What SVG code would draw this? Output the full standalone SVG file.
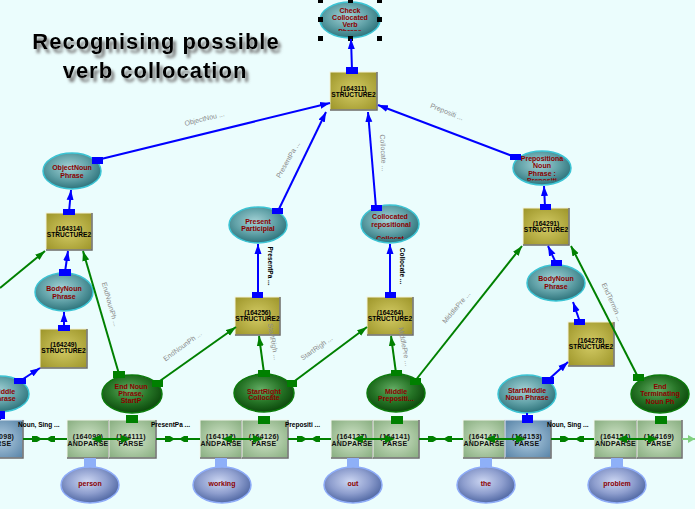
<svg xmlns="http://www.w3.org/2000/svg" width="695" height="509" viewBox="0 0 695 509">
<defs>
<style>
.ti{font-family:"Liberation Sans",Arial,sans-serif;font-size:22px;font-weight:bold;letter-spacing:1px;text-anchor:middle;fill:#000}
.et{font-family:"Liberation Sans",Arial,sans-serif;font-size:7px;font-weight:bold;fill:#8b0000;text-anchor:middle}
.bt{font-family:"Liberation Sans",Arial,sans-serif;font-size:6.6px;font-weight:bold;fill:#000;text-anchor:middle}
.pt{font-family:"Liberation Sans",Arial,sans-serif;font-size:7px;font-weight:bold;fill:#111;text-anchor:middle;letter-spacing:0.3px}
.gl{font-family:"Liberation Sans",Arial,sans-serif;font-size:7px;fill:#8a8a8a;text-anchor:middle}
.kl{font-family:"Liberation Sans",Arial,sans-serif;font-size:6.5px;font-weight:bold;fill:#000}
.kv{font-family:"Liberation Sans",Arial,sans-serif;font-size:6.5px;font-weight:bold;fill:#000;text-anchor:middle}
.teal{fill:url(#gTeal);stroke:#3cc4d4;stroke-width:1.5}
.grn{fill:url(#gGreen);stroke:#0c7a0c;stroke-width:1.5}
.wrd{fill:url(#gWord);stroke:#8eacf8;stroke-width:1.5}
.ob{fill:url(#gOlive);stroke:#f4f4dc;stroke-width:1}
.gb{fill:url(#gGBox);stroke:#f4f8f0;stroke-width:1}
.ub{fill:url(#gBBox);stroke:#e8f0f8;stroke-width:1}
.sh{fill:none;stroke:#6c6c6c;stroke-width:1.5}
.bl{stroke:#0000ff;stroke-width:2;fill:none}
.gn{stroke:#008000;stroke-width:2;fill:none}
.bp{fill:#0000ff}
.gp{fill:#008000}
.lp{fill:#8eb0f8}
.hd{fill:#000}
</style>
<radialGradient id="gTeal" cx="0.45" cy="0.4" r="0.62">
<stop offset="0" stop-color="#a4d2d6"/><stop offset="0.55" stop-color="#62a2a8"/><stop offset="1" stop-color="#2a7078"/>
</radialGradient>
<radialGradient id="gGreen" cx="0.45" cy="0.4" r="0.62">
<stop offset="0" stop-color="#64ac64"/><stop offset="0.55" stop-color="#267426"/><stop offset="1" stop-color="#0a460a"/>
</radialGradient>
<radialGradient id="gWord" cx="0.45" cy="0.4" r="0.62">
<stop offset="0" stop-color="#ccd6f2"/><stop offset="0.55" stop-color="#8e9ece"/><stop offset="1" stop-color="#4c64a0"/>
</radialGradient>
<radialGradient id="gOlive" cx="0.5" cy="0.5" r="0.7">
<stop offset="0" stop-color="#d4cc66"/><stop offset="1" stop-color="#9c9428"/>
</radialGradient>
<radialGradient id="gGBox" cx="0.5" cy="0.5" r="0.7">
<stop offset="0" stop-color="#d2e6ca"/><stop offset="1" stop-color="#86ac7e"/>
</radialGradient>
<radialGradient id="gBBox" cx="0.5" cy="0.5" r="0.7">
<stop offset="0" stop-color="#b2cee2"/><stop offset="1" stop-color="#5682a6"/>
</radialGradient>
<filter id="shadow" x="-10%" y="-40%" width="125%" height="190%">
<feGaussianBlur in="SourceAlpha" stdDeviation="1.6" result="b"/>
<feOffset in="b" dx="3" dy="4" result="o"/>
<feFlood flood-color="#777" result="c"/>
<feComposite in="c" in2="o" operator="in" result="s"/>
<feMerge><feMergeNode in="s"/><feMergeNode in="SourceGraphic"/></feMerge>
</filter>
<marker id="ab" viewBox="0 0 10 8" refX="10" refY="4" markerWidth="10" markerHeight="8" markerUnits="userSpaceOnUse" orient="auto"><path d="M0,0.5 L10,4 L0,7.5 z" fill="#0000ff"/></marker>
<marker id="ag" viewBox="0 0 10 8" refX="10" refY="4" markerWidth="10" markerHeight="8" markerUnits="userSpaceOnUse" orient="auto"><path d="M0,0.5 L10,4 L0,7.5 z" fill="#008000"/></marker>
<clipPath id="cCheck"><rect x="318" y="0" width="64" height="31"/></clipPath>
<clipPath id="cColl"><rect x="369" y="205" width="44" height="34"/></clipPath>
<clipPath id="cPrep"><rect x="510" y="150" width="64" height="30.5"/></clipPath>
</defs>

<rect x="0" y="0" width="695" height="509" fill="#ebfdfd"/>

<g id="title" filter="url(#shadow)">
<text class="ti" x="156" y="49">Recognising possible</text>
<text class="ti" x="155" y="78">verb collocation</text>
</g>

<g id="n_check">
<ellipse class="teal" cx="350" cy="20" rx="30" ry="18"/>
<g clip-path="url(#cCheck)">
<text class="et" x="350" y="12.5">Check</text>
<text class="et" x="350" y="20">Collocated</text>
<text class="et" x="350" y="27">Verb</text>
<text class="et" x="350" y="34">Phrase</text>
</g>
<rect class="hd" x="318" y="-2" width="5" height="5"/><rect class="hd" x="348" y="-2" width="5" height="5"/><rect class="hd" x="377" y="-2" width="5" height="5"/>
<rect class="hd" x="318" y="17" width="5" height="5"/><rect class="hd" x="377" y="17" width="5" height="5"/>
<rect class="hd" x="318" y="36" width="5" height="5"/><rect class="hd" x="348" y="36" width="5" height="5"/><rect class="hd" x="377" y="36" width="5" height="5"/>
</g>
<g id="n_objnp"><ellipse class="teal" cx="72" cy="171" rx="29" ry="18"/><text class="et" x="72" y="170">ObjectNoun</text><text class="et" x="72" y="178">Phrase</text></g>
<g id="n_prespart"><ellipse class="teal" cx="258" cy="225" rx="29" ry="18"/><text class="et" x="258" y="223.5">Present</text><text class="et" x="258" y="231">Participial</text></g>
<g id="n_collprep"><ellipse class="teal" cx="390" cy="224" rx="29" ry="19"/>
<g clip-path="url(#cColl)"><text class="et" x="390" y="218.5">Collocated</text><text class="et" x="391" y="226.5">repositional</text><text class="et" x="390" y="241">Collocat</text></g></g>
<g id="n_prepnp"><ellipse class="teal" cx="542" cy="168" rx="29" ry="17"/>
<g clip-path="url(#cPrep)"><text class="et" x="542" y="160.5">Prepositiona</text><text class="et" x="542" y="167.5">Noun</text><text class="et" x="542" y="175.5">Phrase :</text><text class="et" x="542" y="183">Prepositi</text></g></g>
<g id="n_bodynp_l"><ellipse class="teal" cx="64" cy="292" rx="29" ry="19"/><text class="et" x="64" y="290.5">BodyNoun</text><text class="et" x="64" y="298.5">Phrase</text></g>
<g id="n_middle_l"><ellipse class="teal" cx="0" cy="394" rx="29" ry="18"/><text class="et" x="4" y="393.5">Middle</text><text class="et" x="4" y="400.5">Phrase</text></g>
<g id="n_bodynp_r"><ellipse class="teal" cx="556" cy="283" rx="29" ry="18"/><text class="et" x="556" y="280.5">BodyNoun</text><text class="et" x="556" y="288.5">Phrase</text></g>
<g id="n_startmid"><ellipse class="teal" cx="527" cy="394" rx="29" ry="19"/><text class="et" x="527" y="392.5">StartMiddle</text><text class="et" x="527" y="399.5">Noun Phrase</text></g>

<g id="n_endnoun"><ellipse class="grn" cx="132" cy="394" rx="30" ry="19"/><text class="et" x="131" y="388.5">End Noun</text><text class="et" x="131" y="395.5">Phrase,</text><text class="et" x="131" y="402.5">StartP</text></g>
<g id="n_startright"><ellipse class="grn" cx="264" cy="393" rx="30" ry="19"/><text class="et" x="264" y="393.5">StartRight</text><text class="et" x="264" y="400">Collocate</text></g>
<g id="n_midprep"><ellipse class="grn" cx="396" cy="393" rx="29" ry="19"/><text class="et" x="396" y="393.5">Middle</text><text class="et" x="396" y="400.5">Prepositi...</text></g>
<g id="n_endterm"><ellipse class="grn" cx="660" cy="394" rx="29" ry="19"/><text class="et" x="660" y="388.5">End</text><text class="et" x="660" y="395.5">Terminating</text><text class="et" x="660" y="403.5">Noun Ph</text></g>

<g id="w_person"><ellipse class="wrd" cx="90" cy="485" rx="29" ry="18"/><text class="et" x="90" y="486">person</text></g>
<g id="w_working"><ellipse class="wrd" cx="222" cy="485" rx="29" ry="18"/><text class="et" x="222" y="486">working</text></g>
<g id="w_out"><ellipse class="wrd" cx="353" cy="485" rx="29" ry="18"/><text class="et" x="353" y="486">out</text></g>
<g id="w_the"><ellipse class="wrd" cx="486" cy="485" rx="29" ry="18"/><text class="et" x="486" y="486">the</text></g>
<g id="w_problem"><ellipse class="wrd" cx="617" cy="485" rx="29" ry="18"/><text class="et" x="617" y="486">problem</text></g>

<g id="s164311"><rect class="ob" x="330" y="72" width="47" height="38"/><path class="sh" d="M377,72 V110 H330"/><text class="bt" x="353.5" y="90.5">(164311)</text><text class="bt" x="353.5" y="96.5">STRUCTURE2</text></g>
<g id="s164314"><rect class="ob" x="46" y="213" width="46" height="37"/><path class="sh" d="M92,213 V250 H46"/><text class="bt" x="69" y="230.5">(164314)</text><text class="bt" x="69" y="236.5">STRUCTURE2</text></g>
<g id="s164256"><rect class="ob" x="235" y="297" width="45" height="38"/><path class="sh" d="M280,297 V335 H235"/><text class="bt" x="257.5" y="314.5">(164256)</text><text class="bt" x="257.5" y="320.5">STRUCTURE2</text></g>
<g id="s164264"><rect class="ob" x="367" y="297" width="46" height="38"/><path class="sh" d="M413,297 V335 H367"/><text class="bt" x="390" y="314.5">(164264)</text><text class="bt" x="390" y="320.5">STRUCTURE2</text></g>
<g id="s164291"><rect class="ob" x="523" y="208" width="46" height="37"/><path class="sh" d="M569,208 V245 H523"/><text class="bt" x="546" y="225.5">(164291)</text><text class="bt" x="546" y="231.5">STRUCTURE2</text></g>
<g id="s164249"><rect class="ob" x="40" y="329" width="47" height="39"/><path class="sh" d="M87,329 V368 H40"/><text class="bt" x="63.5" y="347">(164249)</text><text class="bt" x="63.5" y="353">STRUCTURE2</text></g>
<g id="s164278"><rect class="ob" x="568" y="322" width="46" height="44"/><path class="sh" d="M614,322 V366 H568"/><text class="bt" x="591" y="342.5">(164278)</text><text class="bt" x="591" y="348.5">STRUCTURE2</text></g>

<g id="p164098"><rect class="ub" x="-21" y="420" width="44" height="38"/><path class="sh" d="M23,420 V458 H-21"/><text class="pt" x="-1" y="438.5">(164098)</text><text class="pt" x="-1" y="446">PARSE</text></g>
<g id="p164099"><rect class="gb" x="67" y="420" width="42" height="38"/><path class="sh" d="M109,420 V458 H67"/><text class="pt" x="88" y="438.5">(164099)</text><text class="pt" x="88" y="446">ANDPARSE</text></g>
<g id="p164111"><rect class="gb" x="109" y="420" width="47" height="38"/><path class="sh" d="M156,420 V458 H109"/><text class="pt" x="131" y="438.5">(164111)</text><text class="pt" x="131" y="446">PARSE</text></g>
<g id="p164112"><rect class="gb" x="200" y="420" width="42" height="38"/><path class="sh" d="M242,420 V458 H200"/><text class="pt" x="221" y="438.5">(164112)</text><text class="pt" x="221" y="446">ANDPARSE</text></g>
<g id="p164126"><rect class="gb" x="242" y="420" width="46" height="38"/><path class="sh" d="M288,420 V458 H242"/><text class="pt" x="264" y="438.5">(164126)</text><text class="pt" x="264" y="446">PARSE</text></g>
<g id="p164127"><rect class="gb" x="331" y="420" width="42" height="38"/><path class="sh" d="M373,420 V458 H331"/><text class="pt" x="352" y="438.5">(164127)</text><text class="pt" x="352" y="446">ANDPARSE</text></g>
<g id="p164141"><rect class="gb" x="373" y="420" width="46" height="38"/><path class="sh" d="M419,420 V458 H373"/><text class="pt" x="395" y="438.5">(164141)</text><text class="pt" x="395" y="446">PARSE</text></g>
<g id="p164142"><rect class="gb" x="463" y="420" width="42" height="38"/><path class="sh" d="M505,420 V458 H463"/><text class="pt" x="484" y="438.5">(164142)</text><text class="pt" x="484" y="446">ANDPARSE</text></g>
<g id="p164153"><rect class="ub" x="505" y="420" width="46" height="38"/><path class="sh" d="M551,420 V458 H505"/><text class="pt" x="527" y="438.5">(164153)</text><text class="pt" x="527" y="446">PARSE</text></g>
<g id="p164154"><rect class="gb" x="594" y="420" width="43" height="38"/><path class="sh" d="M637,420 V458 H594"/><text class="pt" x="615.5" y="438.5">(164154)</text><text class="pt" x="615.5" y="446">ANDPARSE</text></g>
<g id="p164169"><rect class="gb" x="637" y="420" width="45" height="38"/><path class="sh" d="M682,420 V458 H637"/><text class="pt" x="659" y="438.5">(164169)</text><text class="pt" x="659" y="446">PARSE</text></g>

<g id="connectors">
<line class="bl" x1="352" y1="70" x2="351" y2="39" marker-end="url(#ab)"/>
<line class="bl" x1="97" y1="160" x2="330" y2="103" marker-end="url(#ab)"/>
<line class="bl" x1="278" y1="211" x2="326" y2="112" marker-end="url(#ab)"/>
<line class="bl" x1="376" y1="208" x2="368" y2="112" marker-end="url(#ab)"/>
<line class="bl" x1="515" y1="157" x2="378" y2="105" marker-end="url(#ab)"/>
<line class="bl" x1="69" y1="212" x2="71" y2="190" marker-end="url(#ab)"/>
<line class="bl" x1="545" y1="207" x2="544" y2="186" marker-end="url(#ab)"/>
<line class="bl" x1="65" y1="272" x2="68" y2="251" marker-end="url(#ab)"/>
<line class="bl" x1="64" y1="328" x2="64" y2="312" marker-end="url(#ab)"/>
<line class="bl" x1="20" y1="381" x2="40" y2="368" marker-end="url(#ab)"/>
<line class="bl" x1="258" y1="295" x2="258" y2="244" marker-end="url(#ab)"/>
<line class="bl" x1="390" y1="295" x2="390" y2="244" marker-end="url(#ab)"/>
<line class="bl" x1="556" y1="263" x2="548" y2="246" marker-end="url(#ab)"/>
<line class="bl" x1="580" y1="322" x2="573" y2="302" marker-end="url(#ab)"/>
<line class="bl" x1="548" y1="380" x2="568" y2="362" marker-end="url(#ab)"/>
<line class="bl" x1="0" y1="411" x2="0" y2="420"/>
<line class="bl" x1="527" y1="413" x2="527" y2="420"/>
<line class="gn" x1="0" y1="288" x2="45" y2="251" marker-end="url(#ag)"/>
<line class="gn" x1="119" y1="374" x2="83" y2="251" marker-end="url(#ag)"/>
<line class="gn" x1="157" y1="383" x2="236" y2="327" marker-end="url(#ag)"/>
<line class="gn" x1="264" y1="373" x2="259" y2="336" marker-end="url(#ag)"/>
<line class="gn" x1="292" y1="383" x2="367" y2="327" marker-end="url(#ag)"/>
<line class="gn" x1="396" y1="373" x2="391" y2="336" marker-end="url(#ag)"/>
<line class="gn" x1="415" y1="381" x2="522" y2="246" marker-end="url(#ag)"/>
<line class="gn" x1="638" y1="377" x2="571" y2="246" marker-end="url(#ag)"/>
<g class="gn">
<line x1="23" y1="439" x2="67" y2="439"/>
<line x1="156" y1="439" x2="200" y2="439"/>
<line x1="288" y1="439" x2="331" y2="439"/>
<line x1="419" y1="439" x2="463" y2="439"/>
<line x1="551" y1="439" x2="594" y2="439"/>
<line x1="96" y1="439" x2="126" y2="439"/>
<line x1="227" y1="439" x2="258" y2="439"/>
<line x1="358" y1="439" x2="389" y2="439"/>
<line x1="490" y1="439" x2="521" y2="439"/>
<line x1="622" y1="439" x2="653" y2="439"/>
</g>
<line x1="682" y1="439" x2="695" y2="439" stroke="#80d080" stroke-width="2"/>
<path d="M688,435 L695,439 L688,443 z" fill="#80d080"/>
<g class="gp">
<path d="M32,436 h5 l5,3 l-5,3 h-5 z M55,436 h-4 l-5,3 l5,3 h4 z"/>
<path d="M165,436 h5 l5,3 l-5,3 h-5 z M188,436 h-4 l-5,3 l5,3 h4 z"/>
<path d="M297,436 h5 l5,3 l-5,3 h-5 z M320,436 h-4 l-5,3 l5,3 h4 z"/>
<path d="M428,436 h5 l5,3 l-5,3 h-5 z M452,436 h-4 l-5,3 l5,3 h4 z"/>
<path d="M560,436 h5 l5,3 l-5,3 h-5 z M584,436 h-4 l-5,3 l5,3 h4 z"/>
<path d="M91,439 l10,-4 v8 z M131,439 l-10,-4 v8 z"/>
<path d="M222,439 l10,-4 v8 z M263,439 l-10,-4 v8 z"/>
<path d="M353,439 l10,-4 v8 z M395,439 l-10,-4 v8 z"/>
<path d="M485,439 l10,-4 v8 z M526,439 l-10,-4 v8 z"/>
<path d="M617,439 l10,-4 v8 z M658,439 l-10,-4 v8 z"/>
</g>
<g class="lp">
<rect x="84" y="458" width="12" height="9"/>
<rect x="215" y="458" width="12" height="9"/>
<rect x="347" y="458" width="12" height="9"/>
<rect x="480" y="458" width="12" height="9"/>
<rect x="611" y="458" width="12" height="9"/>
</g>
<g class="bp">
<rect x="346" y="67" width="12" height="7"/>
<rect x="92" y="157" width="11" height="7"/>
<rect x="272" y="208" width="11" height="6"/>
<rect x="371" y="205" width="11" height="6"/>
<rect x="510" y="154" width="11" height="6"/>
<rect x="63" y="209" width="12" height="6"/>
<rect x="540" y="204" width="11" height="6"/>
<rect x="59" y="269" width="12" height="7"/>
<rect x="58" y="325" width="12" height="6"/>
<rect x="14" y="378" width="12" height="6"/>
<rect x="252" y="292" width="11" height="6"/>
<rect x="385" y="292" width="11" height="6"/>
<rect x="551" y="260" width="11" height="6"/>
<rect x="574" y="319" width="11" height="6"/>
<rect x="542" y="377" width="12" height="7"/>
<rect x="-5" y="411" width="10" height="8"/>
<rect x="522" y="415" width="11" height="8"/>
</g>
<g class="gp">
<rect x="113" y="371" width="12" height="7"/>
<rect x="152" y="380" width="11" height="7"/>
<rect x="258" y="370" width="12" height="7"/>
<rect x="287" y="380" width="10" height="7"/>
<rect x="391" y="370" width="11" height="6"/>
<rect x="410" y="378" width="11" height="7"/>
<rect x="633" y="374" width="11" height="7"/>
<rect x="126" y="415" width="12" height="8"/>
<rect x="258" y="416" width="12" height="8"/>
<rect x="391" y="416" width="12" height="8"/>
<rect x="655" y="416" width="12" height="8"/>
</g>
</g>

<g id="labels">
<text class="gl" transform="translate(205,121) rotate(-14)">ObjectNou ...</text>
<text class="gl" transform="translate(446,114) rotate(22)">Prepositi ...</text>
<text class="gl" transform="translate(290,161) rotate(-60)">PresentPa ...</text>
<text class="gl" transform="translate(381,153) rotate(87)">Collocate ...</text>
<text class="kv" transform="translate(268,266) rotate(90)">PresentPa ...</text>
<text class="kv" transform="translate(400,266) rotate(90)">Collocate ...</text>
<text class="gl" transform="translate(108,305) rotate(74)">EndNounPh ...</text>
<text class="gl" transform="translate(184,348) rotate(-36)">EndNounPh ...</text>
<text class="gl" transform="translate(271,342) rotate(80)">StartRigh ...</text>
<text class="gl" transform="translate(318,350) rotate(-35)">StartRigh ...</text>
<text class="gl" transform="translate(402,347) rotate(80)">MiddlePre ...</text>
<text class="gl" transform="translate(458,309) rotate(-50)">MiddlePre ...</text>
<text class="gl" transform="translate(610,303) rotate(66)">EndTermin ...</text>
<text class="kl" x="18" y="427">Noun, Sing ...</text>
<text class="kl" x="151" y="427">PresentPa ...</text>
<text class="kl" x="285" y="427">Prepositi ...</text>
<text class="kl" x="547" y="427">Noun, Sing ...</text>
</g>
</svg>
